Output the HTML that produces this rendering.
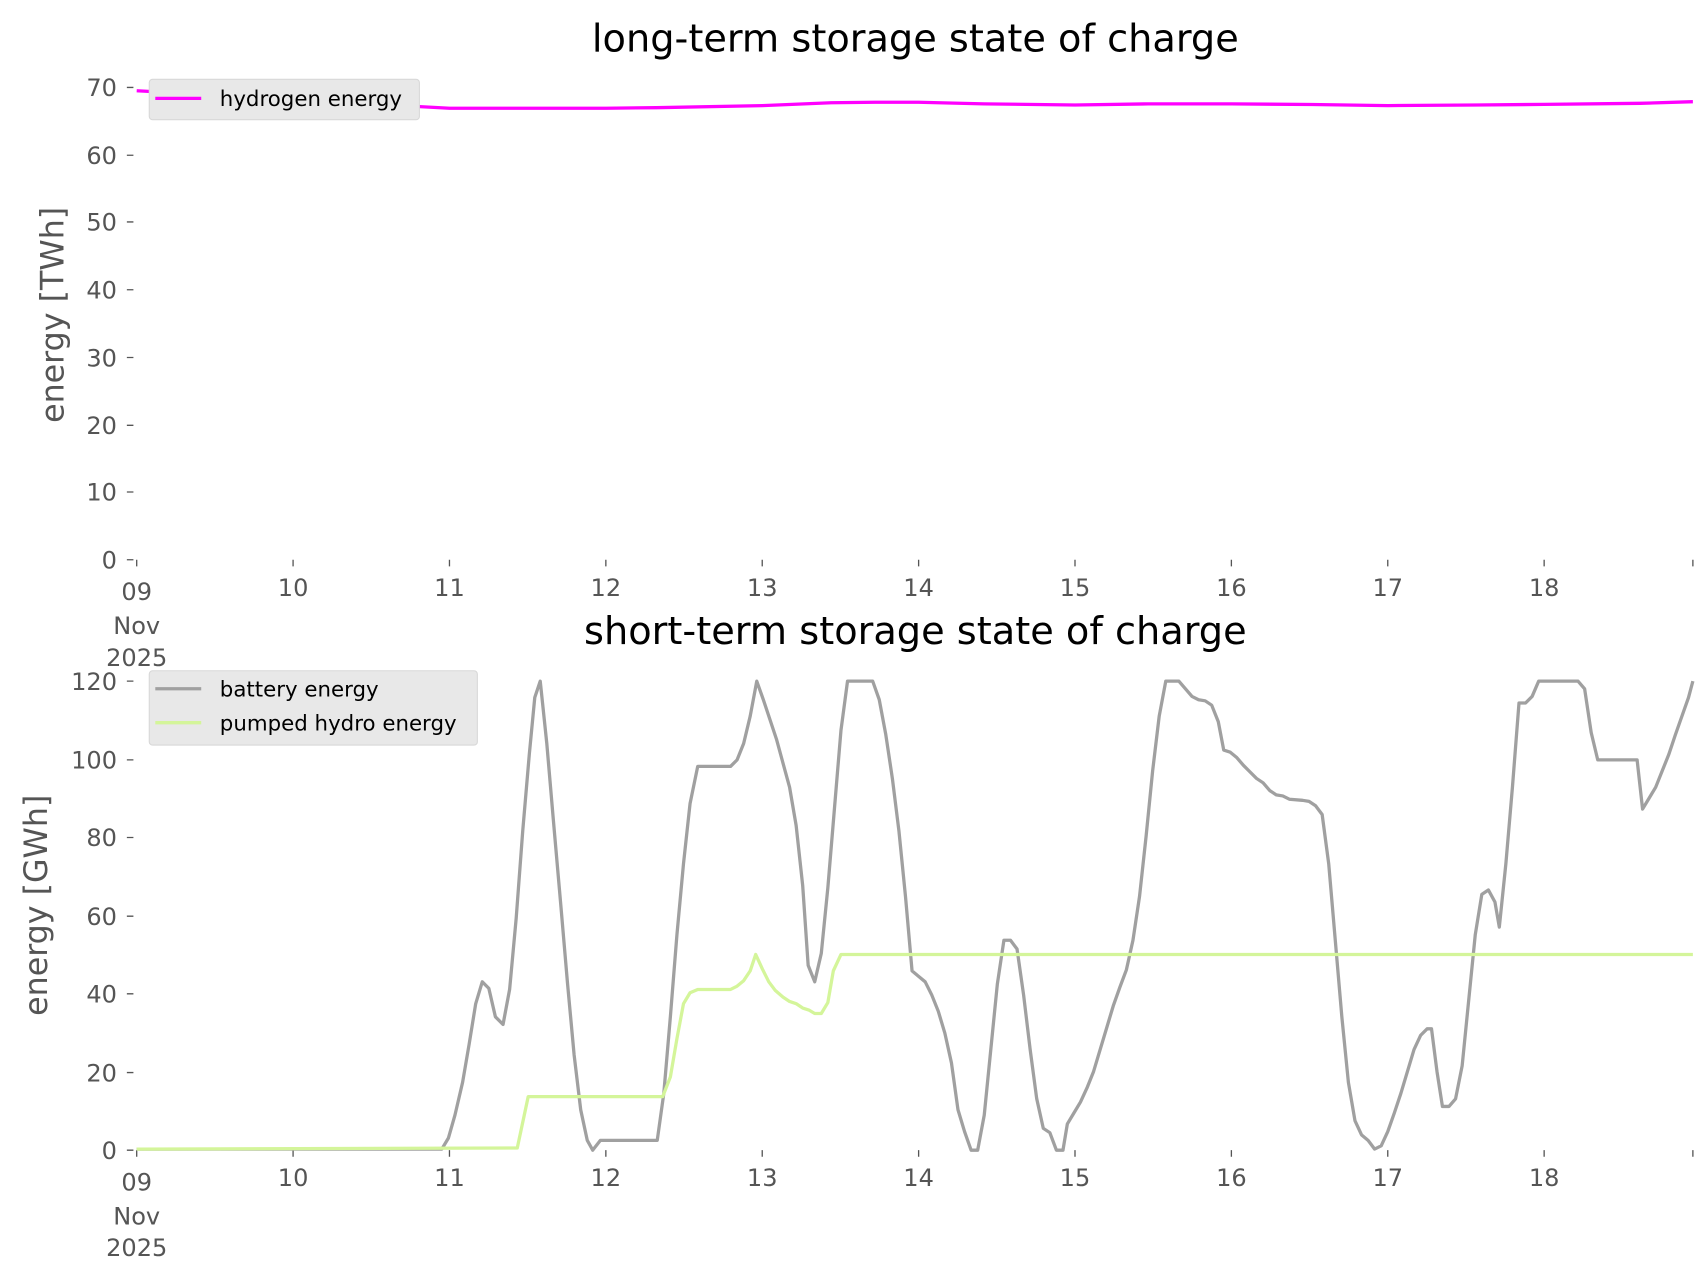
<!DOCTYPE html>
<html><head><meta charset="utf-8"><style>html,body{margin:0;padding:0;background:#fff}svg{display:block}</style></head><body>
<svg width="1706" height="1277" viewBox="0 0 1560 1168" preserveAspectRatio="none" xmlns="http://www.w3.org/2000/svg" font-family="DejaVu Sans, Liberation Sans, sans-serif">
<rect width="1560" height="1168" fill="#fff"/>
<text x="837" y="47" font-size="35" text-anchor="middle" fill="#000">long-term storage state of charge</text>
<text x="837" y="589" font-size="35" text-anchor="middle" fill="#000">short-term storage state of charge</text>
<g fill="#555" font-size="22" text-anchor="end">
<text x="107" y="520">0</text><text x="107" y="458">10</text><text x="107" y="397">20</text><text x="107" y="335">30</text><text x="107" y="273">40</text><text x="107" y="211">50</text><text x="107" y="150">60</text><text x="107" y="88">70</text>
<text x="107" y="1060">0</text><text x="107" y="989">20</text><text x="107" y="917">40</text><text x="107" y="846">60</text><text x="107" y="774">80</text><text x="107" y="703">100</text><text x="107" y="631">120</text>
</g>
<g stroke="#555" stroke-width="1.2">
<path d="M116 512h6M116 450h6M116 389h6M116 327h6M116 265h6M116 203h6M116 142h6M116 80h6"/>
<path d="M116 1052h6M116 981h6M116 909h6M116 838h6M116 766h6M116 695h6M116 623h6"/>
<path d="M125 512v6M268 512v6M411 512v6M554 512v6M697 512v6M840 512v6M983 512v6M1126 512v6M1269 512v6M1412 512v6M1548 512v6"/>
<path d="M125 1052v6M268 1052v6M411 1052v6M554 1052v6M697 1052v6M840 1052v6M983 1052v6M1126 1052v6M1269 1052v6M1412 1052v6M1548 1052v6"/>
</g>
<g fill="#555" font-size="22" text-anchor="middle">
<text x="125" y="549">09</text><text x="125" y="580">Nov</text><text x="125" y="609">2025</text>
<text x="268" y="545">10</text><text x="411" y="545">11</text><text x="554" y="545">12</text><text x="697" y="545">13</text><text x="840" y="545">14</text><text x="983" y="545">15</text><text x="1126" y="545">16</text><text x="1269" y="545">17</text><text x="1412" y="545">18</text>
<text x="125" y="1089">09</text><text x="125" y="1120">Nov</text><text x="125" y="1149">2025</text>
<text x="268" y="1085">10</text><text x="411" y="1085">11</text><text x="554" y="1085">12</text><text x="697" y="1085">13</text><text x="840" y="1085">14</text><text x="983" y="1085">15</text><text x="1126" y="1085">16</text><text x="1269" y="1085">17</text><text x="1412" y="1085">18</text>
</g>
<text transform="translate(58,288) rotate(-90)" font-size="29" fill="#555" text-anchor="middle">energy [TWh]</text>
<text transform="translate(43,828) rotate(-90)" font-size="29" fill="#555" text-anchor="middle">energy [GWh]</text>
<polyline fill="none" stroke="#ff00ff" stroke-width="3" points="125,83 200,87 300,93 411,99 500,99 554,99 600,98.5 697,96.6 760,94 800,93.5 840,93.5 900,95 983,96 1050,95 1126,95 1200,95.6 1269,96.6 1350,96 1412,95.5 1500,94.5 1548,93"/>
<polyline fill="none" stroke="#a0a0a0" stroke-width="3" stroke-linejoin="round" points="125,1051 404,1051 410,1041 416,1020 423,990 429,955 435,918 441,898 447,904 453,930 460,937 466,905 472,840 478,760 484,690 489,638 494,623 500,680 506,750 513,830 519,900 525,965 531,1015 537,1043 542,1052 549,1043 601,1043 607,1000 613,930 619,855 625,790 631,735 638,701 668,701 674,695 680,680 686,655 692,623 698,640 704,658 710,676 716,698 722,720 728,755 734,810 739,883 745,898 751,872 757,812 763,740 769,668 775,623 798,623 804,640 810,672 816,712 822,760 828,820 834,888 840,893 846,898 852,910 858,925 864,945 870,972 876,1015 882,1035 888,1052 894,1052 900,1020 906,960 912,900 918,860 924,860 930,868 936,910 942,960 948,1005 954,1032 960,1036 966,1052 972,1052 976,1028 982,1018 988,1008 994,995 1000,980 1006,960 1012,940 1018,920 1024,903 1030,887 1036,860 1042,820 1048,765 1054,705 1060,655 1066,623 1078,623 1084,630 1090,637 1096,640 1102,641 1108,645 1114,660 1119,686 1125,688 1131,693 1137,700 1143,706 1149,712 1155,716 1161,723 1167,727 1173,728 1179,731 1191,732 1197,733 1203,737 1209,745 1215,790 1221,860 1227,930 1233,990 1239,1025 1245,1038 1251,1043 1257,1051 1263,1048 1269,1035 1275,1018 1281,1000 1287,980 1293,960 1299,947 1305,941 1309,941 1314,980 1319,1012 1325,1012 1331,1005 1337,975 1343,915 1349,855 1355,818 1361,814 1367,825 1371,848 1377,790 1383,720 1389,643 1395,643 1401,637 1407,623 1443,623 1449,630 1455,670 1461,695 1497,695 1502,740 1508,730 1514,720 1520,705 1526,690 1532,672 1538,655 1544,638 1548,623"/>
<polyline fill="none" stroke="#d4f59a" stroke-width="3" stroke-linejoin="round" points="125,1051 473,1050 483,1003 606,1003 613,985 619,950 625,918 631,908 638,905 668,905 674,902 680,897 686,888 691,873 697,886 703,898 709,906 716,912 722,916 728,918 734,922 740,924 745,927 751,927 757,917 762,888 769,873 1548,873"/>
<rect x="136.5" y="72.5" width="247" height="37" rx="3" fill="#e8e8e8" stroke="#d8d8d8"/>
<line x1="142" y1="90" x2="184" y2="90" stroke="#ff00ff" stroke-width="3"/>
<text x="201" y="97" font-size="19.5" fill="#000">hydrogen energy</text>
<rect x="136.5" y="613.5" width="300" height="68" rx="3" fill="#e8e8e8" stroke="#d8d8d8"/>
<line x1="142" y1="630" x2="184" y2="630" stroke="#a0a0a0" stroke-width="3"/>
<text x="201" y="637" font-size="19.5" fill="#000">battery energy</text>
<line x1="142" y1="661" x2="184" y2="661" stroke="#d4f59a" stroke-width="3"/>
<text x="201" y="668" font-size="19.5" fill="#000">pumped hydro energy</text>
</svg>
</body></html>
